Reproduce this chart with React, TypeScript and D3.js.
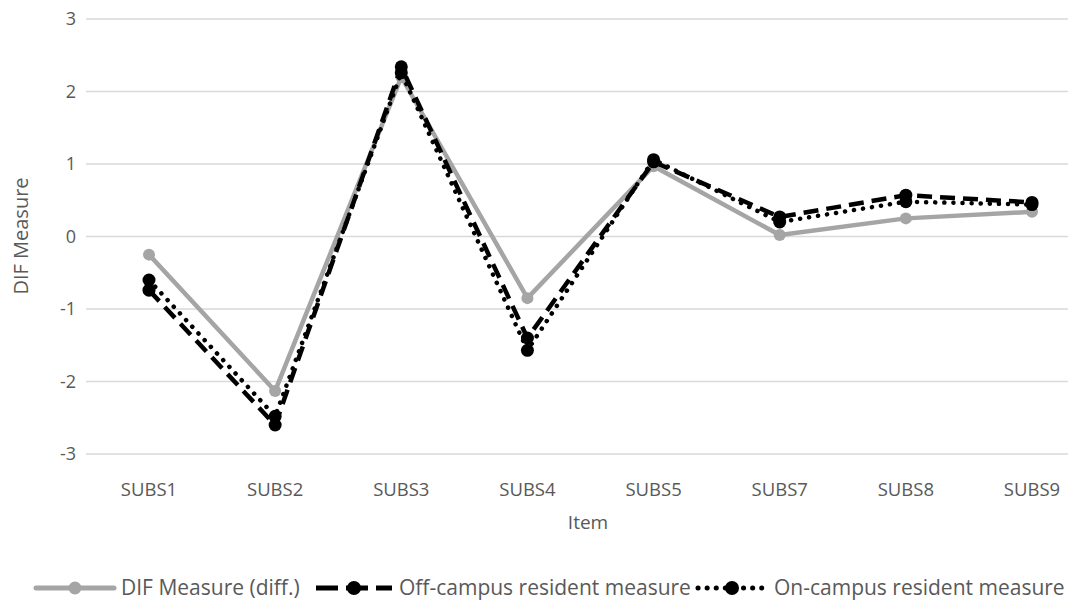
import React from "react";
import * as d3 from "d3";

const categories = ["SUBS1", "SUBS2", "SUBS3", "SUBS4", "SUBS5", "SUBS7", "SUBS8", "SUBS9"];
const difMeasure = [-0.25, -2.13, 2.2, -0.85, 0.97, 0.02, 0.25, 0.34];
const offCampus = [-0.74, -2.6, 2.34, -1.4, 1.03, 0.27, 0.57, 0.47];
const onCampus = [-0.6, -2.48, 2.26, -1.57, 1.06, 0.2, 0.48, 0.44];
const yTicks = [-3, -2, -1, 0, 1, 2, 3];
const seriesNames = ["DIF Measure (diff.)", "Off-campus resident measure", "On-campus resident measure"];

const W = 1086;
const H = 608;
const FONT = "'Open Sans', sans-serif";
const TXT = "#595959";
const LEG_FS = 21;

export default function App() {
  const x = d3.scalePoint<string>().domain(categories).range([149, 1032]);
  const y = d3.scaleLinear().domain([-3, 3]).range([454, 19]);
  const line = d3
    .line<number>()
    .x((_, i) => x(categories[i]) as number)
    .y((d) => y(d));

  const series = [
    { name: seriesNames[0], data: difMeasure, color: "#A5A5A5", dash: "none", cap: "round" as const, r: 6 },
    { name: seriesNames[1], data: offCampus, color: "#000000", dash: "15,8", cap: "butt" as const, r: 6.5 },
    { name: seriesNames[2], data: onCampus, color: "#000000", dash: "0.1,9", cap: "round" as const, r: 6.5 },
  ];

  const legend = [
    { x0: 36, x1: 114, tx: 121 },
    { x0: 316, x1: 392, tx: 399 },
    { x0: 698, x1: 766, tx: 774 },
  ];

  return (
    <svg width={W} height={H} style={{ position: "absolute", left: 0, top: 0, background: "#fff" }} fontFamily={FONT}>
      <rect width={W} height={H} fill="#fff" />
      {yTicks.map((t) => (
        <g key={t}>
          <line x1={86} x2={1068} y1={y(t)} y2={y(t)} stroke="#D9D9D9" strokeWidth={1.3} />
          <text x={76} y={y(t)} dy="0.35em" textAnchor="end" fontSize={18} fill={TXT}>
            {t}
          </text>
        </g>
      ))}
      {categories.map((c) => (
        <text key={c} x={x(c)} y={490} dy="0.35em" textAnchor="middle" fontSize={18.5} fill={TXT}>
          {c}
        </text>
      ))}
      <text x={588} y={522} dy="0.35em" textAnchor="middle" fontSize={19} fill={TXT}>
        Item
      </text>
      <text transform={`translate(21,236) rotate(-90)`} dy="0.35em" textAnchor="middle" fontSize={20} fill={TXT}>
        DIF Measure
      </text>
      {series.map((s) => (
        <g key={s.name}>
          <path
            d={line(s.data) || ""}
            fill="none"
            stroke={s.color}
            strokeWidth={4.5}
            strokeDasharray={s.dash}
            strokeLinecap={s.cap}
            strokeLinejoin="round"
          />
          {s.data.map((v, i) => (
            <circle key={i} cx={x(categories[i])} cy={y(v)} r={s.r} fill={s.color} />
          ))}
        </g>
      ))}
      {series.map((s, i) => (
        <g key={"lg" + s.name}>
          <line
            x1={legend[i].x0}
            x2={legend[i].x1}
            y1={588}
            y2={588}
            stroke={s.color}
            strokeWidth={5}
            strokeDasharray={s.dash === "none" ? "none" : s.dash === "15,8" ? "22,8" : "0.1,9"}
            strokeLinecap={s.cap}
          />
          <circle cx={(legend[i].x0 + legend[i].x1) / 2} cy={588} r={s.r + 0.5} fill={s.color} />
          <text x={legend[i].tx} y={588} dy="0.35em" fontSize={LEG_FS} fill={TXT}>
            {s.name}
          </text>
        </g>
      ))}
    </svg>
  );
}
